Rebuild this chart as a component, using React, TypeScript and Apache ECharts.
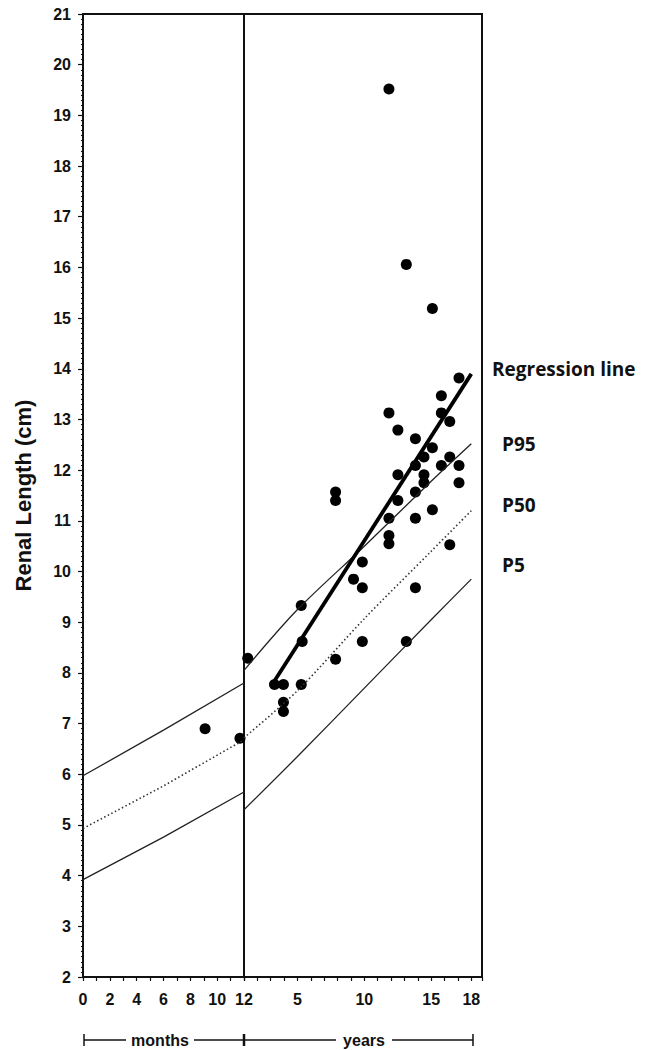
import React, { useEffect, useRef } from "react";
import * as echarts from "echarts";

// ---- data ----
const yTitle = "Renal Length (cm)";
const monthLabelValues = [0, 2, 4, 6, 8, 10, 12];
const yearLabelValues = [5, 10, 15, 18];

const p95Months = [[0, 5.97], [6, 6.87], [12, 7.8]];
const p50Months = [[0, 4.93], [6, 5.77], [12, 6.68]];
const p5Months = [[0, 3.92], [6, 4.76], [12, 5.65]];

const p95Years = [[1, 8.05], [5, 9.25], [10, 10.5], [15, 11.78], [18, 12.52]];
const p50Years = [[1, 6.72], [5, 7.65], [10, 9.07], [15, 10.4], [18, 11.2]];
const p5Years = [[1, 5.3], [5, 6.35], [10, 7.7], [15, 9.05], [18, 9.85]];
const regressionLine = [[3.3, 7.85], [18, 13.9]];

const monthPoints = [[9.1, 6.9], [11.7, 6.71]];
const yearPoints = [
  [17.08, 13.82], [15.76, 13.47], [11.84, 13.13], [15.76, 13.13], [16.39, 12.96],
  [12.51, 12.79], [13.82, 12.62], [15.09, 12.44], [14.46, 12.26], [16.39, 12.26],
  [13.82, 12.09], [15.76, 12.09], [17.08, 12.09], [12.51, 11.91], [14.46, 11.91],
  [14.46, 11.75], [17.08, 11.75], [7.85, 11.57], [7.85, 11.4], [13.82, 11.57],
  [12.51, 11.4], [15.09, 11.22], [11.84, 11.05], [13.82, 11.05], [11.84, 10.71],
  [11.84, 10.55], [16.39, 10.53], [9.85, 10.19], [9.19, 9.85], [9.85, 9.68],
  [13.82, 9.68], [5.28, 9.33], [5.35, 8.62], [9.85, 8.62], [13.14, 8.62],
  [7.85, 8.27], [1.28, 8.29], [11.84, 19.52], [13.14, 16.06], [15.09, 15.19],
  [3.28, 7.77], [3.95, 7.77], [5.28, 7.77], [3.95, 7.42], [3.95, 7.24],
];

const lineLabels = ["Regression line", "P95", "P50", "P5"];
const bracketLabels = ["months", "years"];

export default function App() {
  const ref = useRef<HTMLDivElement>(null);

  useEffect(() => {
    if (!ref.current) return;
    const chart = echarts.init(ref.current, null, { renderer: "svg" });
    const ink = "#111";
    const labelFont = { fontFamily: "Liberation Sans", fontWeight: "bold" as const, fontSize: 16, color: ink };
    const thin = { color: "#222", width: 1.3 };
    const dotted = { color: "#333", width: 1.6, type: [1.5, 2.5] as any };
    const sideFont = "bold 19px 'Open Sans'";

    const yBase = {
      type: "value" as const,
      min: 2,
      max: 21,
      interval: 1,
      splitLine: { show: false },
    };

    const option: any = {
      animation: false,
      backgroundColor: "#fff",
      grid: [
        { left: 83, top: 14, width: 161, height: 963, show: true, borderColor: ink, borderWidth: 2, backgroundColor: "transparent" },
        { left: 244, top: 14, width: 238, height: 963, show: true, borderColor: ink, borderWidth: 2, backgroundColor: "transparent" },
      ],
      xAxis: [
        {
          gridIndex: 0,
          type: "value",
          min: 0,
          max: 12,
          interval: 1,
          axisLine: { show: true, lineStyle: { color: ink, width: 2 } },
          axisTick: { show: true, inside: false, length: 4, lineStyle: { color: ink, width: 1.2 } },
          axisLabel: { ...labelFont, margin: 14, customValues: monthLabelValues },
          splitLine: { show: false },
        },
        {
          gridIndex: 1,
          type: "value",
          min: 1,
          max: 18.8,
          interval: 1,
          axisLine: { show: true, lineStyle: { color: ink, width: 2 } },
          axisTick: { show: true, inside: false, length: 4, lineStyle: { color: ink, width: 1.2 } },
          axisLabel: { ...labelFont, margin: 14, customValues: yearLabelValues },
          splitLine: { show: false },
        },
      ],
      yAxis: [
        {
          ...yBase,
          gridIndex: 0,
          name: yTitle,
          nameLocation: "middle",
          nameRotate: 90,
          nameGap: 49,
          nameTextStyle: { fontFamily: "Liberation Sans", fontWeight: "bold", fontSize: 22, color: ink },
          axisLine: { show: true, lineStyle: { color: ink, width: 2 } },
          axisTick: { show: true, inside: false, length: 5, lineStyle: { color: ink, width: 1.2 } },
          minorTick: { show: true, splitNumber: 10, length: 2, lineStyle: { color: ink, width: 1 } },
          axisLabel: { ...labelFont, margin: 12 },
        },
        { ...yBase, gridIndex: 1, show: false },
      ],
      series: [
        { type: "line", xAxisIndex: 0, yAxisIndex: 0, data: p95Months, symbol: "none", lineStyle: thin },
        { type: "line", xAxisIndex: 0, yAxisIndex: 0, data: p50Months, symbol: "none", lineStyle: dotted },
        { type: "line", xAxisIndex: 0, yAxisIndex: 0, data: p5Months, symbol: "none", lineStyle: thin },
        { type: "line", xAxisIndex: 1, yAxisIndex: 1, data: p95Years, symbol: "none", lineStyle: thin, smooth: 0.3 },
        { type: "line", xAxisIndex: 1, yAxisIndex: 1, data: p50Years, symbol: "none", lineStyle: dotted, smooth: 0.3 },
        { type: "line", xAxisIndex: 1, yAxisIndex: 1, data: p5Years, symbol: "none", lineStyle: thin, smooth: 0.3 },
        { type: "line", xAxisIndex: 1, yAxisIndex: 1, data: regressionLine, symbol: "none", lineStyle: { color: "#000", width: 3.8 } },
        { type: "scatter", xAxisIndex: 0, yAxisIndex: 0, data: monthPoints, symbolSize: 11, itemStyle: { color: "#000", opacity: 1 } },
        { type: "scatter", xAxisIndex: 1, yAxisIndex: 1, data: yearPoints, symbolSize: 11, itemStyle: { color: "#000", opacity: 1 } },
      ],
      graphic: [
        { type: "text", x: 492, y: 369, style: { text: lineLabels[0], font: sideFont, fill: ink, verticalAlign: "middle" } },
        { type: "text", x: 502, y: 444, style: { text: lineLabels[1], font: sideFont, fill: ink, verticalAlign: "middle" } },
        { type: "text", x: 502, y: 505, style: { text: lineLabels[2], font: sideFont, fill: ink, verticalAlign: "middle" } },
        { type: "text", x: 502, y: 565, style: { text: lineLabels[3], font: sideFont, fill: ink, verticalAlign: "middle" } },
        { type: "line", shape: { x1: 84, y1: 1034, x2: 84, y2: 1046 }, style: { stroke: ink, lineWidth: 1.5 } },
        { type: "line", shape: { x1: 84, y1: 1040, x2: 126, y2: 1040 }, style: { stroke: ink, lineWidth: 1.3 } },
        { type: "text", x: 160, y: 1040, style: { text: bracketLabels[0], font: "bold 16px 'Liberation Sans'", fill: ink, align: "center", verticalAlign: "middle" } },
        { type: "line", shape: { x1: 194, y1: 1040, x2: 244, y2: 1040 }, style: { stroke: ink, lineWidth: 1.3 } },
        { type: "line", shape: { x1: 244, y1: 1034, x2: 244, y2: 1046 }, style: { stroke: ink, lineWidth: 2.5 } },
        { type: "line", shape: { x1: 244, y1: 1040, x2: 336, y2: 1040 }, style: { stroke: ink, lineWidth: 1.3 } },
        { type: "text", x: 364, y: 1040, style: { text: bracketLabels[1], font: "bold 16px 'Liberation Sans'", fill: ink, align: "center", verticalAlign: "middle" } },
        { type: "line", shape: { x1: 392, y1: 1040, x2: 473, y2: 1040 }, style: { stroke: ink, lineWidth: 1.3 } },
        { type: "line", shape: { x1: 473, y1: 1034, x2: 473, y2: 1046 }, style: { stroke: ink, lineWidth: 1.5 } },
      ],
    };

    chart.setOption(option);
    return () => chart.dispose();
  }, []);

  return (
    <div
      ref={ref}
      style={{ position: "fixed", left: 0, top: 0, width: 646, height: 1050, background: "#fff" }}
    />
  );
}
